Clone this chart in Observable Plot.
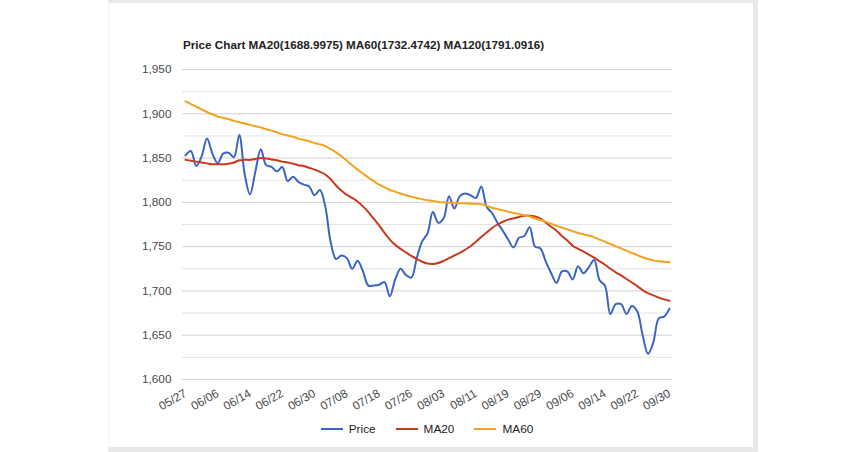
<!DOCTYPE html>
<html><head><meta charset="utf-8">
<script src="https://cdn.jsdelivr.net/npm/d3@7"></script>
<script src="https://cdn.jsdelivr.net/npm/@observablehq/plot@0.6"></script>
<style>
html,body{margin:0;padding:0;background:#fff;width:858px;height:452px;overflow:hidden;font-family:"Liberation Sans",Arial,sans-serif;}
#card{position:absolute;left:108px;top:0;width:650px;height:452px;border-top:3px solid #e8e8e8;border-right:5px solid #e8e8e8;border-bottom:5px solid #e8e8e8;border-left:1px solid #f3f3f3;box-sizing:border-box;}
#title{position:absolute;left:183px;top:38px;font-size:11.7px;line-height:14px;font-weight:bold;color:#222;white-space:nowrap;}
#chart{position:absolute;left:0;top:55px;}
#legend{position:absolute;left:0;width:854px;top:422px;display:flex;justify-content:center;font-size:11.8px;line-height:14px;color:#222;}
.item{display:flex;align-items:center;margin:0 10px;}
.sw{display:inline-block;width:22px;height:2.5px;margin-right:6px;}
</style></head>
<body>
<div id="card"></div>
<div id="title">Price Chart MA20(1688.9975) MA60(1732.4742) MA120(1791.0916)</div>
<div id="chart"></div>
<div id="legend"></div>
<script>
const dates = ["05/27","06/06","06/14","06/22","06/30","07/08","07/18","07/26","08/03","08/11","08/19","08/29","09/06","09/14","09/22","09/30"];
const price = [1853,1858,1841,1852,1872,1855,1844,1855,1856,1851,
1876,1832,1809,1835,1860,1842,1840,1835,1840,1824,
1829,1823,1820,1818,1808,1814,1795,1755,1736,1740,
1737,1725,1734,1722,1706,1706,1707,1710,1694,1713,
1725,1718,1715,1737,1756,1765,1789,1777,1782,1807,
1793,1807,1810,1808,1805,1818,1795,1788,1777,1768,
1758,1749,1760,1762,1772,1750,1748,1733,1720,1709,
1722,1722,1713,1728,1720,1727,1735,1712,1706,1674,
1685,1685,1674,1683,1677,1650,1629,1642,1669,1671,
1680];
const ma20 = [1848,1847,1846,1845,1844,1843,1843,1843,1843.5,1845,
1847.5,1848,1848,1849,1850,1849.5,1848.5,1847.5,1846,1845,
1843.5,1842,1841,1839,1837,1834.5,1831.5,1826,1819,1813,
1808.5,1805,1801,1795.5,1789,1781.5,1774,1765.5,1758,1752,
1747.5,1743.5,1739.5,1736,1733,1731,1730.5,1731.5,1734,1737,
1740,1743,1746.5,1750.5,1755.5,1761,1766,1771,1775,1778,
1780.5,1782,1783.5,1785,1785,1784,1781.5,1777,1772.5,1768,
1762,1757,1751,1747.5,1744.5,1741,1737.5,1733.5,1729.5,1725,
1721,1717.5,1713.5,1709.5,1705.5,1701,1697.5,1695,1692.5,1690.5,
1689];
const ma60 = [1914,1911,1908,1905,1902,1899.5,1897,1895.5,1894,1892,
1890.5,1889,1887.5,1886,1884.5,1882.5,1881,1879,1877,1875.5,
1874,1872,1870.5,1869,1867,1865.5,1863.5,1860,1856.5,1852,
1847,1842,1837,1832.5,1828,1824,1820,1817,1814,1812,
1810,1808,1806.5,1805,1803.5,1802.5,1801.5,1800.5,1800,1799.5,
1799.5,1799,1799,1798.5,1798.5,1798,1796,1794,1792.5,1791,
1789.5,1788,1787,1785.5,1784,1782,1780,1778,1776,1773.5,
1771.5,1769.5,1767.5,1765.5,1764,1762.5,1760.5,1758,1755.5,1753,
1750.5,1748,1745.5,1743,1740.5,1738,1736,1734.5,1733.5,1733,
1732.5];
const seriesNames = ["Price","MA20","MA60"];
const seriesColors = ["#3a65c2","#c8391f","#f2a31e"];
const yMajor = [1600,1650,1700,1750,1800,1850,1900,1950];
const yMinor = [1625,1675,1725,1775,1825,1875,1925];
const tickStep = 6;

const data = price.map((p,i)=>({i, price:p, ma20:ma20[i], ma60:ma60[i]}));
const xTicks = dates.map((d,k)=>k*tickStep);

const chart = Plot.plot({
  width: 858, height: 364,
  marginLeft: 182, marginRight: 186, marginTop: 14, marginBottom: 40,
  style: {fontFamily: "'Liberation Sans', Arial, sans-serif", fontSize: "11.8px", background: "transparent", color: "#4a4a4a"},
  x: {domain: [0, price.length-1], insetLeft: 3, insetRight: 3},
  y: {domain: [1600, 1950]},
  marks: [
    Plot.ruleY(yMinor, {stroke: "#e3e3e3", strokeWidth: 1}),
    Plot.ruleY(yMajor, {stroke: "#d2d2d2", strokeWidth: 1}),
    Plot.axisY({ticks: yMajor, tickFormat: d3.format(","), tickSize: 0, tickPadding: 11, label: null}),
    Plot.axisX({ticks: xTicks, tickFormat: d => dates[d/tickStep], tickRotate: -30, tickSize: 0, tickPadding: 13, label: null}),
    Plot.line(data, {x:"i", y:"price", stroke: seriesColors[0], strokeWidth: 2, curve: "catmull-rom"}),
    Plot.line(data, {x:"i", y:"ma20", stroke: seriesColors[1], strokeWidth: 2, curve: "catmull-rom"}),
    Plot.line(data, {x:"i", y:"ma60", stroke: seriesColors[2], strokeWidth: 2, curve: "catmull-rom"})
  ]
});
document.getElementById("chart").appendChild(chart);

const leg = document.getElementById("legend");
seriesNames.forEach((n,k)=>{
  const it = document.createElement("span"); it.className="item";
  const sw = document.createElement("span"); sw.className="sw"; sw.style.background = seriesColors[k];
  it.appendChild(sw); it.appendChild(document.createTextNode(n));
  leg.appendChild(it);
});
</script>
</body></html>
